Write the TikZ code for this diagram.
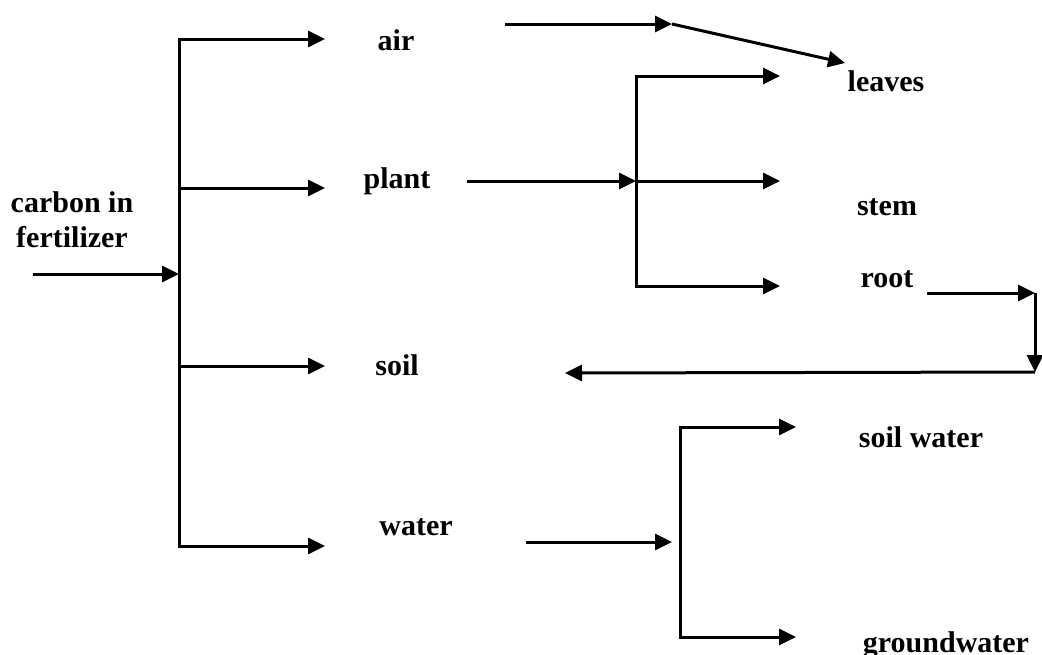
\documentclass[tikz,border=0pt]{standalone}
\usepackage{fontspec}
\setmainfont{Liberation Serif}
\usetikzlibrary{arrows.meta}

\tikzset{
  flow/.style={line width=3pt,-{Triangle[length=17pt,width=16pt]}},
  bar/.style={line width=3pt,line cap=rect},
  lbl/.style={font=\bfseries\fontsize{30}{35}\selectfont,anchor=base,inner sep=0pt},
}

\begin{document}
\begin{tikzpicture}[x=1pt,y=1pt,yscale=-1]
\useasboundingbox (0,0) rectangle (1042,654);

% Text Node
\node[lbl] (carbon) at (72,212) {carbon in};
% Text Node
\node[lbl] (fert) at (72,247) {fertilizer};
% Text Node
\node[lbl] (air) at (396,50) {air};
% Text Node
\node[lbl] (plant) at (397,188) {plant};
% Text Node
\node[lbl] (soil) at (397,375) {soil};
% Text Node
\node[lbl] (water) at (416,535) {water};
% Text Node
\node[lbl] (leaves) at (886,91) {leaves};
% Text Node
\node[lbl] (stem) at (887,215) {stem};
% Text Node
\node[lbl] (root) at (887,287) {root};
% Text Node
\node[lbl] (soilwater) at (921,447) {soil water};
% Text Node
\node[lbl] (ground) at (946,652) {groundwater};

% main split
\coordinate (in) at (33,274);
\coordinate (hub) at (179,274);
\coordinate (hubA) at (179,39);
\coordinate (hubB) at (179,188);
\coordinate (hubC) at (179,366);
\coordinate (hubD) at (179,546);
\coordinate (toAir) at (325,39);
\coordinate (toPlant) at (325,188);
\coordinate (toSoil) at (325,366);
\coordinate (toWater) at (325,546);
\draw[flow] (in) -- (hub);
\draw[bar] (hubA) -- (hubD);
\draw[flow] (hubA) -- (toAir);
\draw[flow] (hubB) -- (toPlant);
\draw[flow] (hubC) -- (toSoil);
\draw[flow] (hubD) -- (toWater);

% air to leaves
\coordinate (airOut) at (505,24);
\coordinate (airBend) at (672,24);
\coordinate (toLeavesA) at (845,63);
\draw[flow] (airOut) -- (airBend);
\draw[flow] (airBend) -- (toLeavesA);

% plant split
\coordinate (plantOut) at (467,181);
\coordinate (plantHub) at (636,181);
\coordinate (plantA) at (636,76);
\coordinate (plantC) at (636,286);
\coordinate (toLeaves) at (780,76);
\coordinate (toStem) at (780,181);
\coordinate (toRoot) at (780,286);
\draw[flow] (plantOut) -- (plantHub);
\draw[bar] (plantA) -- (plantC);
\draw[flow] (plantA) -- (toLeaves);
\draw[flow] (plantHub) -- (toStem);
\draw[flow] (plantC) -- (toRoot);

% root back to soil
\coordinate (rootOut) at (927,293);
\coordinate (rootBend) at (1035,293);
\coordinate (rootDown) at (1035,372);
\coordinate (toSoilB) at (565,373);
\draw[flow] (rootOut) -- (rootBend);
\draw[flow] (rootBend) -- (rootDown);
\draw[flow] (rootDown) -- (toSoilB);

% water split
\coordinate (waterOut) at (526,542);
\coordinate (waterHub) at (672,542);
\coordinate (waterA) at (680,427);
\coordinate (waterB) at (680,637);
\coordinate (toSoilWater) at (796,427);
\coordinate (toGround) at (796,637);
\draw[flow] (waterOut) -- (waterHub);
\draw[bar] (waterA) -- (waterB);
\draw[flow] (waterA) -- (toSoilWater);
\draw[flow] (waterB) -- (toGround);

\end{tikzpicture}
\end{document}
